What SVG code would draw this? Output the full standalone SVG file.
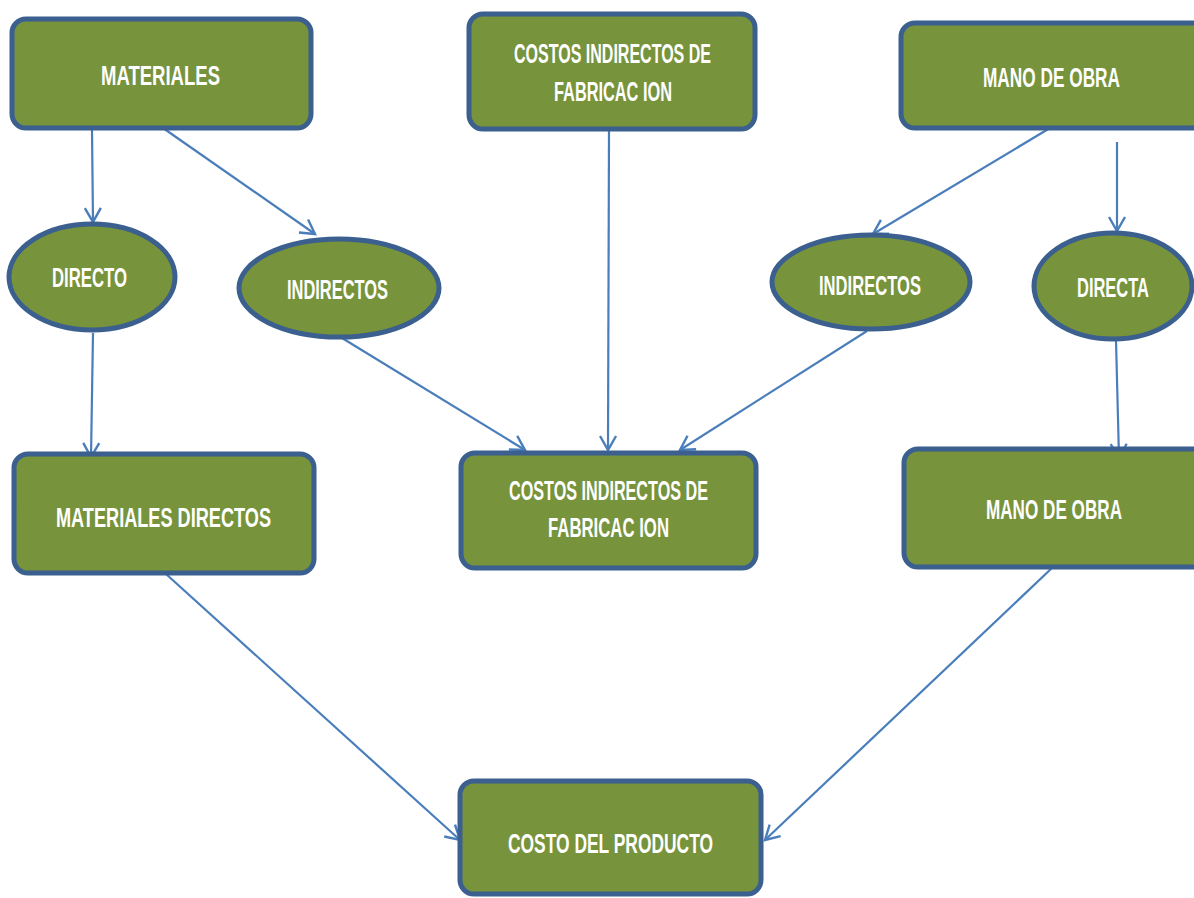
<svg xmlns="http://www.w3.org/2000/svg" width="1194" height="898" viewBox="0 0 1194 898">
  <style>
    .box { fill: #77933C; stroke: #3B5F8E; stroke-width: 5; }
    .lbl { font-family: "Liberation Sans", Arial, sans-serif; font-weight: bold; font-size: 27px; fill: #FFFFFF; }
    .link { stroke: #4A7EBB; stroke-width: 2.2; fill: none; marker-end: url(#vhead); }
  </style>
  <defs>
    <marker id="vhead" markerUnits="userSpaceOnUse" markerWidth="20" markerHeight="20" viewBox="0 0 20 20" refX="16" refY="10" orient="auto">
      <path d="M2,2 L16,10 L2,18" fill="none" stroke="#4A7EBB" stroke-width="2.4" stroke-linejoin="miter"/>
    </marker>
  </defs>
  <rect width="1194" height="898" fill="#FFFFFF"/>

  <!-- connectors -->
  <g id="connectors">
    <line class="link" x1="92" y1="130" x2="93" y2="222"/>
    <line class="link" x1="163" y1="128" x2="315" y2="234"/>
    <line class="link" x1="609" y1="131" x2="608" y2="450"/>
    <line class="link" x1="1050" y1="128" x2="873" y2="234"/>
    <line class="link" x1="1117" y1="142" x2="1117" y2="231"/>
    <line class="link" x1="93" y1="333" x2="91" y2="457"/>
    <line class="link" x1="342" y1="338" x2="525" y2="450"/>
    <line class="link" x1="867" y1="331" x2="680" y2="450"/>
    <line class="link" x1="1116" y1="340" x2="1119" y2="458"/>
    <line class="link" x1="166" y1="574" x2="460" y2="840"/>
    <line class="link" x1="1052" y1="568" x2="765" y2="840"/>
  </g>

  <g id="materiales">
    <rect class="box" x="12" y="19" width="299" height="109" rx="14"/>
    <text class="lbl" x="101" y="85" textLength="119" lengthAdjust="spacingAndGlyphs">MATERIALES</text>
  </g>

  <g id="cif-top">
    <rect class="box" x="469" y="14" width="286" height="115" rx="14"/>
    <text class="lbl" x="514" y="63" textLength="197" lengthAdjust="spacingAndGlyphs">COSTOS INDIRECTOS DE</text>
    <text class="lbl" x="554" y="101" textLength="118" lengthAdjust="spacingAndGlyphs">FABRICAC ION</text>
  </g>

  <g id="mano-obra-top">
    <rect class="box" x="901" y="23" width="310" height="105" rx="14"/>
    <text class="lbl" x="983" y="87" textLength="137" lengthAdjust="spacingAndGlyphs">MANO DE OBRA</text>
  </g>

  <g id="directo">
    <ellipse class="box" cx="92" cy="277" rx="83" ry="53"/>
    <text class="lbl" x="52" y="287" textLength="75" lengthAdjust="spacingAndGlyphs">DIRECTO</text>
  </g>

  <g id="indirectos-mat">
    <ellipse class="box" cx="339" cy="288" rx="100" ry="49"/>
    <text class="lbl" x="287" y="299" textLength="101" lengthAdjust="spacingAndGlyphs">INDIRECTOS</text>
  </g>

  <g id="indirectos-mo">
    <ellipse class="box" cx="871" cy="282" rx="99" ry="47"/>
    <text class="lbl" x="819" y="295" textLength="102" lengthAdjust="spacingAndGlyphs">INDIRECTOS</text>
  </g>

  <g id="directa">
    <ellipse class="box" cx="1113" cy="286" rx="79" ry="53"/>
    <text class="lbl" x="1077" y="297" textLength="72" lengthAdjust="spacingAndGlyphs">DIRECTA</text>
  </g>

  <g id="materiales-directos">
    <rect class="box" x="14" y="454" width="300" height="119" rx="14"/>
    <text class="lbl" x="56" y="527" textLength="215" lengthAdjust="spacingAndGlyphs">MATERIALES DIRECTOS</text>
  </g>

  <g id="cif-bottom">
    <rect class="box" x="461" y="453" width="295" height="115" rx="14"/>
    <text class="lbl" x="509" y="500" textLength="199" lengthAdjust="spacingAndGlyphs">COSTOS INDIRECTOS DE</text>
    <text class="lbl" x="548" y="537" textLength="121" lengthAdjust="spacingAndGlyphs">FABRICAC ION</text>
  </g>

  <g id="mano-obra-bottom">
    <rect class="box" x="904" y="449" width="310" height="118" rx="14"/>
    <text class="lbl" x="986" y="519" textLength="136" lengthAdjust="spacingAndGlyphs">MANO DE OBRA</text>
  </g>

  <g id="costo-producto">
    <rect class="box" x="460" y="781" width="301" height="113" rx="14"/>
    <text class="lbl" x="508" y="853" textLength="205" lengthAdjust="spacingAndGlyphs">COSTO DEL PRODUCTO</text>
  </g>
</svg>
